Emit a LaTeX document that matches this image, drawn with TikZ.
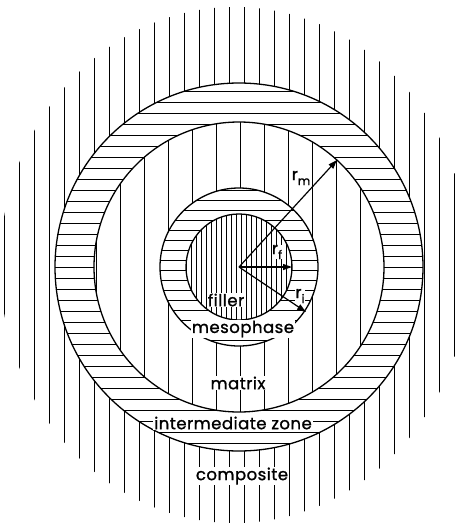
\documentclass[tikz,border=0pt]{standalone}
\usepackage{fontspec}
\setmainfont{Poppins}[UprightFeatures={FakeBold=1.2}, LetterSpace=3]
\usetikzlibrary{arrows.meta}

\newcommand{\rlab}[1]{r\raisebox{-5pt}{\fontsize{12}{12}\selectfont #1}}

\begin{document}
\begin{tikzpicture}[x=1pt,y=-1pt,
    cercle/.style={line width=1.3pt},
    hachure/.style={line width=0.55pt},
    rayon/.style={line width=1.2pt,-{Triangle[length=9pt,width=6pt]}},
    etiq/.style={fill=white,inner sep=1pt,font=\fontsize{16.5}{18}\selectfont}]
    \useasboundingbox (0,0) rectangle (460,523);
    \coordinate (c) at (239,267);

    % Hachures : composite
    \begin{scope}[even odd rule]
        \clip (235,265) ellipse [x radius=235, y radius=258] (c) circle [radius=184];
        \foreach \x in {4,19,...,460} {
            \draw [hachure] (\x,0) -- (\x,523);
        }
    \end{scope}
    % Hachures : zone intermediaire
    \begin{scope}[even odd rule]
        \clip (c) circle [radius=184] (c) circle [radius=145];
        \foreach \y in {80,91,...,460} {
            \draw [hachure] (40,\y) -- (440,\y);
        }
    \end{scope}
    % Hachures : matrice
    \begin{scope}[even odd rule]
        \clip (c) circle [radius=145] (c) circle [radius=79];
        \foreach \x in {96,120,...,390} {
            \draw [hachure] (\x,110) -- (\x,420);
        }
    \end{scope}
    % Hachures : mesophase
    \begin{scope}[even odd rule]
        \clip (c) circle [radius=79] (c) circle [radius=53];
        \foreach \y in {190,200,...,350} {
            \draw [hachure] (150,\y) -- (330,\y);
        }
    \end{scope}
    % Hachures : filler
    \begin{scope}
        \clip (c) circle [radius=53];
        \foreach \x in {186,191,...,295} {
            \draw [hachure] (\x,210) -- (\x,325);
        }
    \end{scope}

    % Cercles
    \foreach \r in {184,145,79,53} {
        \draw [cercle] (c) circle [radius=\r];
    }

    % Rayons
    \coordinate (tm) at (337,160);
    \coordinate (tf) at (292,267);
    \coordinate (ti) at (306,312);
    \draw [rayon] (c) -- (tm);
    \draw [rayon] (c) -- (tf);
    \draw [rayon] (c) -- (ti);

    % Etiquettes
    \node [etiq] (lrm) at (301,178) {\rlab{m}};
    \node [etiq, inner sep=0pt] (lrf) at (277,252) {\rlab{f}};
    \node [etiq, inner sep=0pt] (lri) at (300,296) {\rlab{i}};
    \node [etiq] (filler) at (226,300) {filler};
    \node [etiq] (meso) at (243,329) {mesophase};
    \node [etiq] (matrix) at (238,383) {matrix};
    \node [etiq] (zone) at (233,423) {intermediate zone};
    \node [etiq] (compo) at (242,476) {composite};
\end{tikzpicture}
\end{document}
